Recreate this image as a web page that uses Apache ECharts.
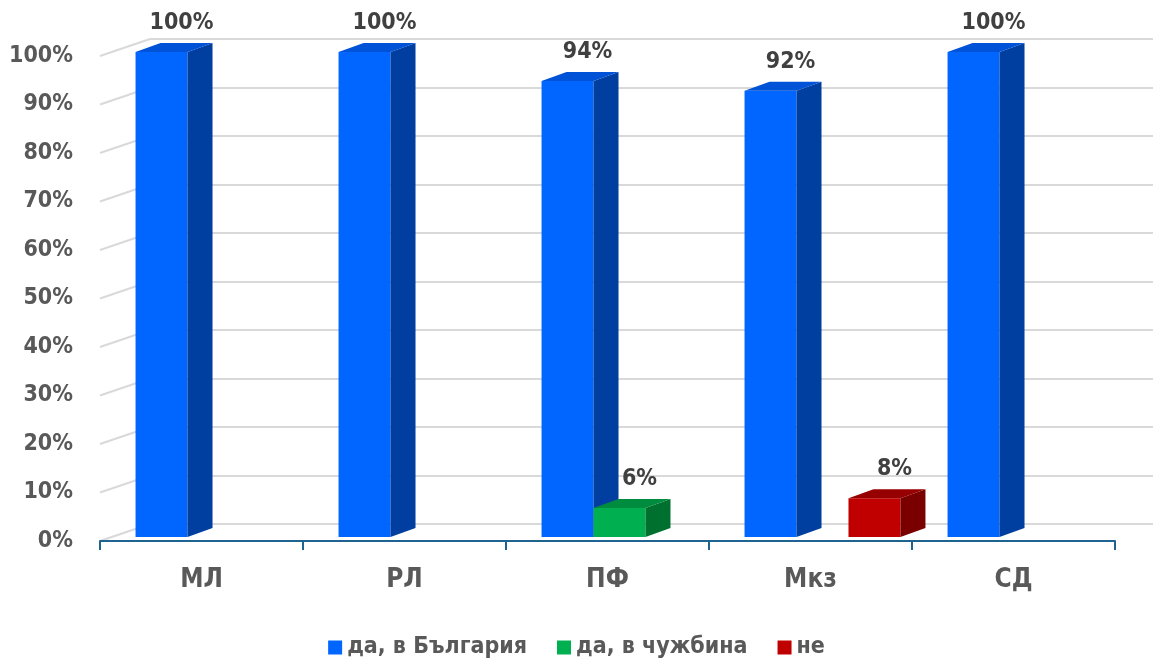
<!DOCTYPE html>
<html>
<head>
<meta charset="utf-8">
<script src="https://cdn.jsdelivr.net/npm/echarts@6/dist/echarts.min.js"></script>
<style>
html,body{margin:0;padding:0;background:#fff;}
#chart{width:1153px;height:663px;}
</style>
</head>
<body>
<div id="chart"></div>
<script>
const categories = ['МЛ', 'РЛ', 'ПФ', 'Мкз', 'СД'];
const seriesNames = ['да, в България', 'да, в чужбина', 'не'];
const bulgaria = [100, 100, 94, 92, 100];
const abroad = [null, null, 6, null, null];
const no = [null, null, null, 8, null];
const yTicks = [0, 10, 20, 30, 40, 50, 60, 70, 80, 90, 100];

const FONT = "'Liberation Sans Narrow', 'Arial Narrow', 'DejaVu Sans Condensed', sans-serif";
const palettes = [
  { front: '#0066FF', side: '#003FA0', top: '#0052D6' },
  { front: '#00B050', side: '#00702F', top: '#008C3E' },
  { front: '#C00000', side: '#7A0000', top: '#960000' }
];
// 3D projection offsets (pixels)
const FRONT_DX = 12, FRONT_DY = -4;
const DEPTH_DX = 25, DEPTH_DY = -9;
const WALL_DX = 50, WALL_DY = -17;

function makeBarSeries(idx, values) {
  const pal = palettes[idx];
  return {
    type: 'custom',
    name: seriesNames[idx],
    xAxisIndex: 0, yAxisIndex: 0,
    itemStyle: { color: pal.front },
    z: 10 + idx,
    clip: false,
    data: values.map((v, i) => [i, v == null ? 0 : v, v == null ? 0 : 1]),
    renderItem: function (params, api) {
      if (!api.value(2)) return null;
      const cat = api.value(0), val = api.value(1);
      const band = api.size([1, 0])[0];
      const bw = band * 0.256;
      const base = api.coord([cat, 0]);
      const topP = api.coord([cat, val]);
      const cx = base[0] + FRONT_DX + (idx - 1) * bw;
      const x0 = cx - bw / 2, x1 = cx + bw / 2;
      const yb = base[1] + FRONT_DY, yt = topP[1] + FRONT_DY;
      return {
        type: 'group',
        children: [
          { type: 'rect', shape: { x: x0, y: yt, width: bw, height: yb - yt }, style: { fill: pal.front } },
          { type: 'polygon', shape: { points: [[x1, yt], [x1 + DEPTH_DX, yt + DEPTH_DY], [x1 + DEPTH_DX, yb + DEPTH_DY], [x1, yb]] }, style: { fill: pal.side } },
          { type: 'polygon', shape: { points: [[x0, yt], [x1, yt], [x1 + DEPTH_DX, yt + DEPTH_DY], [x0 + DEPTH_DX, yt + DEPTH_DY]] }, style: { fill: pal.top } },
          { type: 'text', x: cx + 20, y: yt - 29, style: { text: val + '%', fill: '#404040', font: 'bold 23px ' + FONT, align: 'center', verticalAlign: 'middle' } }
        ]
      };
    }
  };
}

const chart = echarts.init(document.getElementById('chart'), null, { renderer: 'canvas' });
chart.setOption({
  animation: false,
  backgroundColor: '#fff',
  grid: [
    { left: 100, right: 38, top: 56, bottom: 122 },
    { left: 150, right: -20, top: 39, bottom: 139 }
  ],
  xAxis: [
    {
      type: 'category', gridIndex: 0, data: categories,
      axisLine: { lineStyle: { color: '#1F6391', width: 2 } },
      axisTick: { show: true, length: 9, lineStyle: { color: '#1F6391', width: 2 } },
      axisLabel: { color: '#595959', fontFamily: FONT, fontWeight: 'bold', fontSize: 26, margin: 26 },
      z: 20
    },
    { type: 'value', gridIndex: 1, min: 0, max: 1, show: false }
  ],
  yAxis: [
    {
      type: 'value', gridIndex: 0, min: 0, max: 100, interval: 10,
      axisLine: { show: false }, axisTick: { show: false }, splitLine: { show: false },
      axisLabel: { formatter: '{value}%', color: '#595959', fontFamily: FONT, fontWeight: 'bold', fontSize: 23, margin: 27 }
    },
    {
      type: 'value', gridIndex: 1, min: 0, max: 100, interval: 10,
      axisLine: { show: false }, axisTick: { show: false }, axisLabel: { show: false },
      splitLine: { show: true, lineStyle: { color: '#D9D9D9', width: 2 } }
    }
  ],
  legend: {
    top: 631, left: 'center',
    icon: 'rect', itemWidth: 14, itemHeight: 14, itemGap: 30,
    textStyle: { color: '#595959', fontFamily: FONT, fontWeight: 'bold', fontSize: 23 },
    data: seriesNames
  },
  series: [
    {
      type: 'custom', xAxisIndex: 1, yAxisIndex: 1, z: 1, silent: true, clip: false,
      data: yTicks.map(t => [0, t]),
      renderItem: function (params, api) {
        const p = api.coord([0, api.value(1)]);
        return { type: 'line', shape: { x1: p[0] - WALL_DX, y1: p[1] - WALL_DY, x2: p[0], y2: p[1] }, style: { stroke: '#D9D9D9', lineWidth: 2 } };
      }
    },
    makeBarSeries(0, bulgaria),
    makeBarSeries(1, abroad),
    makeBarSeries(2, no)
  ]
});
</script>
</body>
</html>
